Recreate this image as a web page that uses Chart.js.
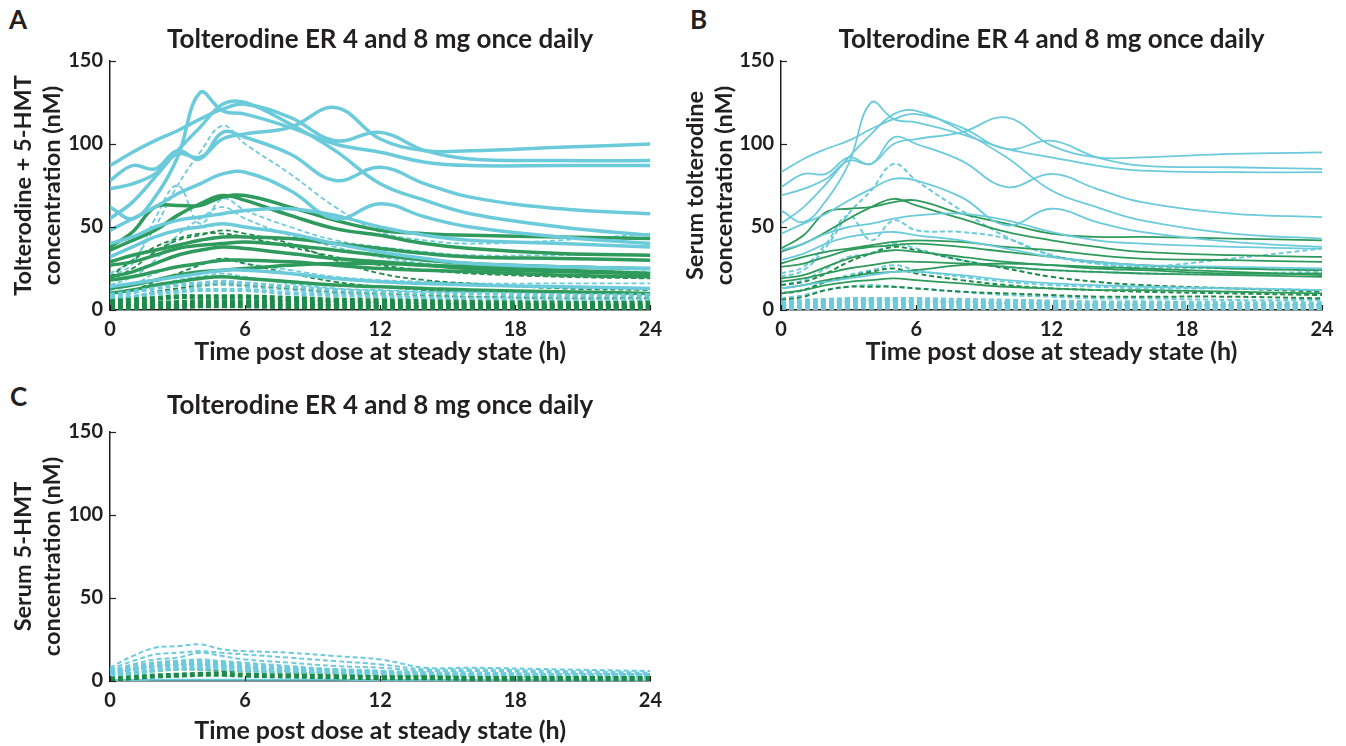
<!DOCTYPE html>
<html><head><meta charset="utf-8">
<script src="https://cdn.jsdelivr.net/npm/chart.js@4.4.1/dist/chart.umd.min.js"></script>
<style>
html,body{margin:0;padding:0;background:#fff;}
body{width:1346px;height:746px;position:relative;overflow:hidden;font-family:Lato,sans-serif;}
canvas{position:absolute;}
.lab{position:absolute;font:bold 26px Lato,sans-serif;color:#231f20;line-height:26px;}
</style></head><body>
<div class="lab" style="left:9px;top:6px">A</div>
<div class="lab" style="left:690px;top:6px">B</div>
<div class="lab" style="left:10px;top:383px">C</div>
<canvas id="cA" width="670" height="372" style="left:0;top:0"></canvas>
<canvas id="cB" width="676" height="372" style="left:670px;top:0"></canvas>
<canvas id="cC" width="670" height="374" style="left:0;top:372px"></canvas>
<script>
// ---------- DATA ----------
const hours = [0,1,2,3,4,5,6,8,10,12,14,16,20,24];
const xTicks = [0,6,12,18,24];
const yTicks = [0,50,100,150];
const panelTitle = 'Tolterodine ER 4 and 8 mg once daily';
const xTitle = 'Time post dose at steady state (h)';
const yTitleA = ['Tolterodine + 5-HMT','concentration (nM)'];
const yTitleB = ['Serum tolterodine','concentration (nM)'];
const yTitleC = ['Serum 5-HMT','concentration (nM)'];

// Panel A: tolterodine + 5-HMT
const aBlueSolid = [
  [87, 95, 102, 108, 115, 121, 124, 116, 102, 107, 96, 91, 90, 90],
  [62, 55, 68, 92, 131, 120, 118, 110, 100, 95, 89, 87, 87, 87],
  [73, 76, 82, 94, 92, 103, 106, 110, 122, 103, 96, 96, 98, 100],
  [78, 87, 85, 96, 91, 107, 104, 94, 78, 86, 76, 68, 61, 58],
  [55, 65, 80, 96, 110, 124, 125, 112, 96, 76, 66, 58, 50, 45],
  [48, 55, 62, 70, 76, 82, 83, 72, 55, 64, 56, 50, 44, 40],
  [40, 44, 50, 54, 56, 58, 60, 61, 57, 50, 45, 42, 40, 38],
  [32, 38, 44, 48, 50, 52, 50, 46, 40, 35, 31, 28, 26, 25],
  [14, 16, 18, 20, 22, 24, 24, 22, 19, 17, 16, 15, 14, 13]
];
const aGreenSolid = [
  [38, 47, 62, 63, 63, 68, 69, 62, 54, 48, 46, 45, 44, 43],
  [36, 42, 48, 57, 64, 69, 66, 57, 49, 45, 40, 37, 34, 33],
  [29, 33, 36, 39, 42, 44, 44, 43, 40, 37, 34, 32, 31, 30],
  [27, 29, 33, 37, 39, 40, 41, 39, 36, 33, 30, 28, 26, 25],
  [20, 23, 28, 33, 36, 38, 37, 34, 31, 29, 27, 25, 23, 22],
  [18, 20, 23, 26, 28, 30, 30, 29, 27, 25, 24, 23, 21, 20],
  [13, 15, 18, 21, 23, 24, 25, 27, 28, 28, 27, 26, 24, 22],
  [10, 12, 15, 17, 19, 20, 19, 17, 15, 14, 13, 12, 11, 10]
];
const aBlueDashed = [
  [22, 30, 50, 75, 95, 111, 100, 82, 62, 47, 42, 40, 42, 46],
  [20, 28, 55, 75, 52, 67, 60, 50, 42, 38, 35, 33, 33, 33],
  [15, 20, 30, 45, 55, 62, 55, 45, 38, 32, 28, 26, 24, 23],
  [12, 15, 22, 26, 28, 30, 28, 24, 20, 18, 17, 16, 16, 16],
  [8, 10, 14, 18, 20, 22, 20, 16, 13, 12, 11, 11, 11, 10],
  [6, 8, 10, 12, 14, 15, 14, 12, 10, 9, 8, 8, 8, 7]
];
const aGreenDashed = [
  [18, 25, 35, 42, 45, 48, 46, 40, 30, 22, 18, 16, 13, 12],
  [20, 30, 38, 43, 46, 46, 44, 38, 32, 27, 24, 22, 20, 19],
  [10, 12, 17, 22, 27, 31, 28, 22, 17, 14, 12, 11, 10, 9],
  [6, 8, 11, 13, 15, 16, 15, 13, 11, 10, 9, 8, 7, 7]
];
const aGreenLow = [
  [1, 1.5, 2, 2, 2.5, 2.5, 2.5, 2, 2, 1.5, 1.5, 1, 1, 1],
  [3, 3.5, 4, 4.5, 5, 5, 5, 4.5, 4, 3.5, 3, 3, 2.5, 2.5],
  [5, 6, 7, 8, 8, 8, 8, 7, 6, 5.5, 5, 4.5, 4, 4]
];
const aBlueLow = [
  [7, 8, 10, 11, 12, 12, 12, 10, 9, 8, 7, 7, 6, 6],
  [9, 11, 13, 15, 16, 17, 16, 14, 12, 11, 10, 10, 9, 9]
];

// Panel B: serum tolterodine
const bBlueSolid = [
  [83, 91, 97, 102, 109, 115, 118, 110, 97, 102, 92, 87, 86, 85],
  [60, 53, 66, 88, 125, 115, 113, 106, 97, 92, 87, 84, 83, 83],
  [69, 73, 79, 90, 88, 100, 103, 107, 116, 99, 92, 92, 94, 95],
  [74, 82, 82, 92, 88, 104, 100, 90, 74, 82, 73, 65, 58, 56],
  [52, 62, 76, 92, 106, 118, 120, 108, 92, 72, 62, 54, 46, 43],
  [46, 52, 58, 66, 73, 79, 78, 68, 51, 61, 53, 47, 41, 38],
  [36, 40, 46, 50, 52, 55, 57, 58, 54, 47, 42, 40, 38, 37],
  [30, 34, 40, 44, 46, 47, 45, 42, 37, 32, 29, 27, 26, 25],
  [13, 15, 17, 19, 21, 23, 23, 21, 18, 16, 15, 14, 13, 12]
];
const bGreenSolid = [
  [37, 45, 59, 61, 62, 65, 66, 58, 52, 46, 44, 44, 43, 42],
  [35, 40, 47, 55, 62, 67, 63, 55, 47, 42, 38, 35, 33, 32],
  [28, 32, 35, 37, 39, 41, 42, 41, 38, 36, 33, 31, 30, 29],
  [26, 28, 32, 36, 38, 39, 40, 38, 35, 32, 29, 27, 25, 24],
  [19, 21, 26, 31, 34, 36, 35, 32, 29, 27, 25, 24, 22, 22],
  [17, 19, 22, 25, 27, 29, 29, 28, 26, 24, 23, 22, 21, 20],
  [13, 15, 18, 20, 22, 23, 24, 27, 28, 27, 26, 25, 23, 21],
  [10, 12, 15, 17, 18, 19, 18, 16, 14, 13, 12, 12, 11, 10]
];
const bBlueDashed = [
  [20, 24, 38, 58, 72, 88, 78, 60, 44, 33, 28, 26, 25, 24],
  [22, 26, 40, 57, 42, 54, 48, 47, 43, 33, 28, 26, 31, 37],
  [15, 18, 25, 32, 34, 40, 37, 30, 26, 24, 23, 22, 22, 23],
  [10, 12, 17, 21, 24, 27, 24, 20, 17, 15, 14, 13, 13, 12],
  [7, 9, 12, 14, 15, 14, 13, 11, 9, 8, 7, 7, 6, 6]
];
const bGreenDashed = [
  [15, 17, 22, 29, 34, 38, 36, 30, 25, 20, 17, 15, 13, 11],
  [10, 12, 17, 20, 23, 25, 22, 18, 15, 13, 12, 11, 10, 9],
  [6, 8, 12, 14, 14, 14, 13, 11, 10, 9, 8, 8, 8, 7],
  [3, 4, 5, 5, 6, 6, 5, 5, 4, 4, 3, 3, 3, 3]
];
const bBlueLow = [
  [1, 1, 1.5, 2, 2, 2, 2, 2, 1.5, 1.5, 1, 1, 1, 1],
  [2.5, 3, 3.5, 4, 4, 4, 4, 3.5, 3, 3, 2.5, 2.5, 2, 2],
  [4, 5, 5.5, 6, 6, 6, 6, 5.5, 5, 4.5, 4, 4, 3.5, 3.5]
];

// Panel C: serum 5-HMT
const cBlueDashed = [
  [8, 15, 20, 21, 22, 19, 18, 17, 15, 13, 8, 8, 7, 6],
  [7, 12, 16, 17, 18, 17, 16, 14, 12, 10, 7, 7, 6, 5],
  [6, 10, 13, 14, 17, 15, 13, 11, 9, 8, 6, 6, 5, 4],
  [5, 8, 11, 12, 13, 12, 11, 9, 7, 6, 5, 4, 4, 3],
  [4, 7, 9, 10, 11, 10, 9, 8, 6, 5, 4, 4, 3, 3]
];
const cGreenDashed = [
  [4, 7, 9, 10, 10, 9, 8, 6, 5, 4, 3, 3, 2, 2],
  [3, 5, 6, 7, 7, 6, 6, 5, 4, 3, 3, 2, 2, 2]
];
const cBlueLow = [
  [3, 5, 7, 8, 8, 8, 7, 6, 5, 4, 3, 3, 3, 3],
  [5, 8, 10, 11, 11, 10, 9, 7, 6, 5, 4, 4, 3, 3]
];
const cGreenLow = [
  [1, 2, 3, 3.5, 4, 4, 3.5, 3, 2.5, 2, 2, 1.5, 1.5, 1.5]
];
const cSolid = [
  [0.6, 0.6, 0.7, 0.8, 0.8, 0.8, 0.8, 0.7, 0.7, 0.6, 0.6, 0.6, 0.5, 0.5]
];

// ---------- STYLE ----------
const FONT = 'Lato, "Open Sans", sans-serif';
const W = 'bold';
const TXT = '#231f20';
const AX = '#231f20';
const BLUE = '#6ccbdb';
const GREEN = '#2e9a5c';
const DGREEN = '#1d8a4a';

function series(arr, color, width, dash) {
  return arr.map(vals => ({
    data: hours.map((h, i) => ({x: h, y: vals[i]})),
    borderColor: color, borderWidth: width, borderDash: dash || [],
    fill: false, pointRadius: 0
  }));
}

const innerTicks = {
  id: 'innerTicks',
  afterDraw(chart) {
    const {ctx, scales: {x, y}} = chart;
    ctx.save();
    ctx.strokeStyle = AX; ctx.lineWidth = 1.2;
    y.ticks.forEach(t => {
      const py = Math.round(y.getPixelForValue(t.value)) + 0.5;
      ctx.beginPath(); ctx.moveTo(y.right, py); ctx.lineTo(y.right + 6, py); ctx.stroke();
    });
    x.ticks.forEach(t => {
      const px = Math.round(x.getPixelForValue(t.value)) + 0.5;
      ctx.beginPath(); ctx.moveTo(px, x.top); ctx.lineTo(px, x.top - 5); ctx.stroke();
    });
    ctx.restore();
  }
};

function makePanel(id, c) {
  new Chart(document.getElementById(id), {
    type: 'line',
    data: {datasets: c.datasets},
    options: {
      responsive: false, animation: false, devicePixelRatio: 1,
      layout: {padding: {left: 0, right: c.padRight, top: 0, bottom: 0}},
      plugins: {
        legend: {display: false}, tooltip: {enabled: false},
        title: {display: true, text: panelTitle, fullSize: false, color: TXT,
          font: {family: FONT, size: 26, weight: W, lineHeight: 1.2},
          padding: {top: c.titleTop, bottom: c.titleBottom}}
      },
      elements: {point: {radius: 0}, line: {tension: 0.4, borderCapStyle: 'butt'}},
      scales: {
        x: {
          type: 'linear', min: 0, max: 24,
          afterBuildTicks: s => { s.ticks = xTicks.map(v => ({value: v})); },
          ticks: {padding: 8, color: TXT, font: {family: FONT, size: 20, weight: W}},
          grid: {display: false, drawTicks: false},
          border: {display: true, color: AX, width: 1.5},
          title: {display: true, text: xTitle, color: TXT,
            font: {family: FONT, size: 25, weight: W, lineHeight: 1.2},
            padding: {top: 0, bottom: c.xTitleBottom}},
          afterFit: s => { s.height = c.xH; }
        },
        y: {
          min: 0, max: 150,
          afterBuildTicks: s => { s.ticks = yTicks.map(v => ({value: v})); },
          ticks: {padding: 7, color: TXT, font: {family: FONT, size: 20, weight: W}},
          grid: {display: false, drawTicks: false},
          border: {display: true, color: AX, width: 1.5},
          title: {display: true, text: c.yTitle, color: TXT,
            font: {family: FONT, size: 23.5, weight: W, lineHeight: 1.25},
            padding: {top: c.yTitleTop, bottom: 0}},
          afterFit: s => { s.width = c.yW; }
        }
      }
    },
    plugins: [innerTicks]
  });
}

makePanel('cA', {
  datasets: [].concat(
    series(aGreenLow, DGREEN, 5, [5, 3]),
    series(aBlueLow, BLUE, 4, [5, 3]),
    series(aBlueSolid, BLUE, 3.5),
    series(aGreenSolid, GREEN, 3.5),
    series(aGreenDashed, DGREEN, 1.8, [5, 3]),
    series(aBlueDashed, BLUE, 1.8, [5, 3])
  ),
  padRight: 18, titleTop: 24.4, titleBottom: 5.4, xH: 62, xTitleBottom: 5,
  yTitle: yTitleA, yTitleTop: 8.3, yW: 110
});

makePanel('cB', {
  datasets: [].concat(
    series(bBlueLow, BLUE, 6, [5, 3]),
    series(bBlueSolid, BLUE, 1.8),
    series(bGreenSolid, GREEN, 1.8),
    series(bGreenDashed, DGREEN, 2, [5, 3]),
    series(bBlueDashed, BLUE, 2, [5, 3])
  ),
  padRight: 24, titleTop: 24.4, titleBottom: 5.4, xH: 62, xTitleBottom: 5,
  yTitle: yTitleB, yTitleTop: 10.3, yW: 111
});

makePanel('cC', {
  datasets: [].concat(
    series(cGreenLow, DGREEN, 5, [5, 3]),
    series(cBlueLow, BLUE, 6, [5, 3]),
    series(cSolid, BLUE, 2),
    series(cGreenDashed, DGREEN, 2, [5, 3]),
    series(cBlueDashed, BLUE, 2, [5, 3])
  ),
  padRight: 18, titleTop: 18.4, titleBottom: 10.4, xH: 65, xTitleBottom: 0,
  yTitle: yTitleC, yTitleTop: 8.3, yW: 110
});
</script>
</body></html>
